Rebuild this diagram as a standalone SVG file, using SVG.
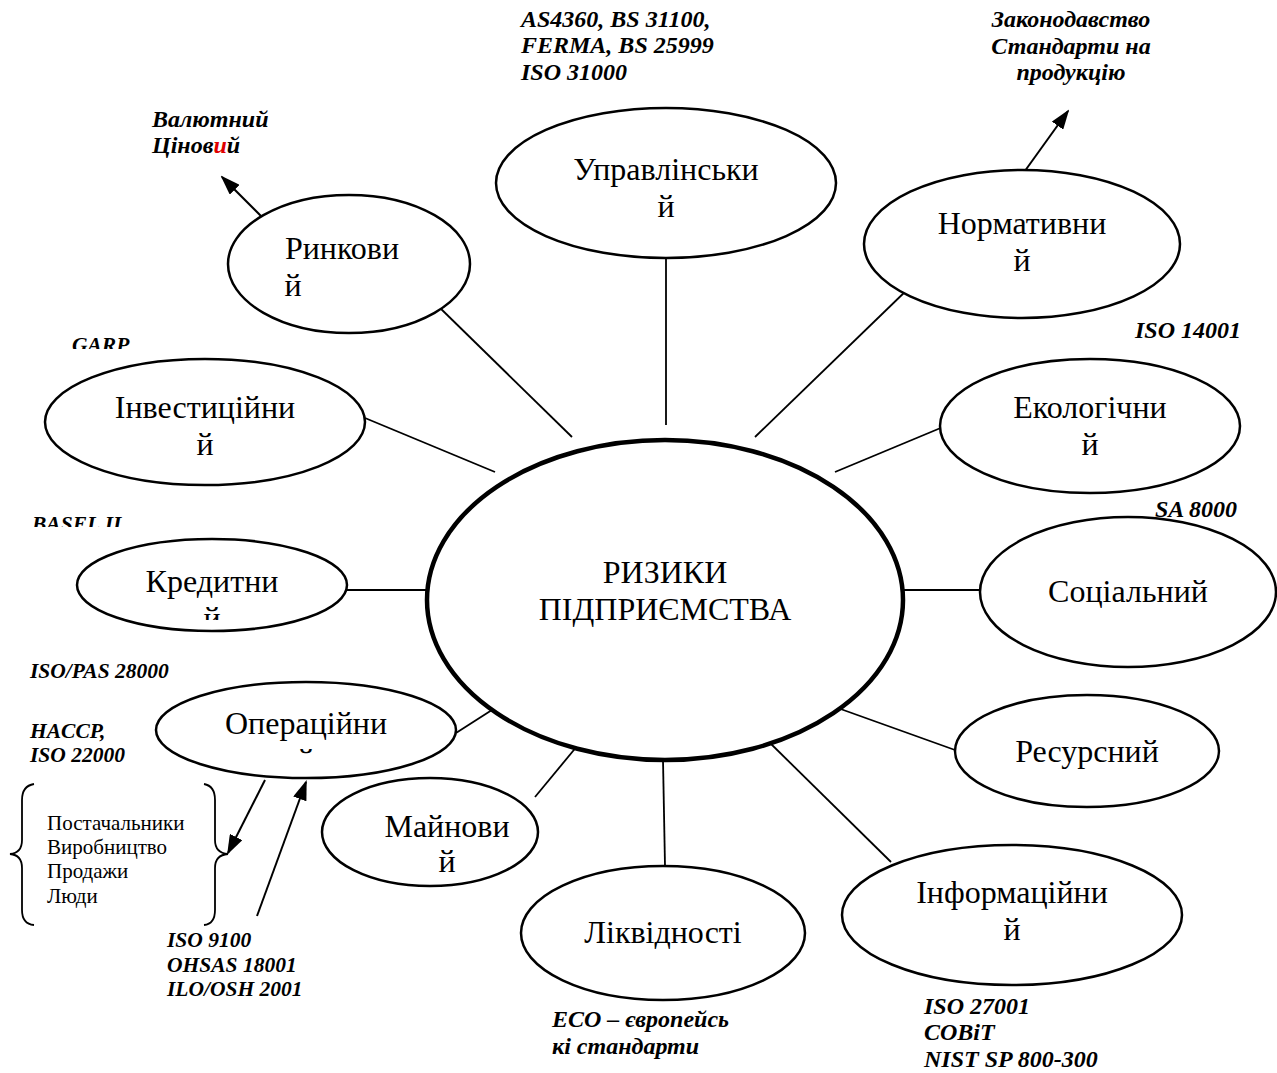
<svg xmlns="http://www.w3.org/2000/svg" width="1277" height="1073" viewBox="0 0 1277 1073">
<style>
.node{fill:#fff;stroke:#000;stroke-width:2.5}
.main{fill:#fff;stroke:#000;stroke-width:4.5}
text{font-family:'Liberation Serif','DejaVu Serif','Noto Serif',serif}
.lbl{font-size:32px;fill:#000;text-anchor:middle}
.std{font-size:24px;font-weight:bold;font-style:italic;fill:#000}
.sm{font-size:21.5px}
.lst{font-size:21px;fill:#000}
.con line{stroke:#000;stroke-width:1.8}
.arr{stroke:#000;stroke-width:2;marker-end:url(#ah)}
.brace{fill:none;stroke:#000;stroke-width:1.8}
</style>
<defs>
<marker id="ah" markerWidth="20" markerHeight="14" refX="18" refY="7" orient="auto" markerUnits="userSpaceOnUse" viewBox="0 0 20 14">
<path d="M0,0 L20,7 L0,14 Z" fill="#000"/>
</marker>
<clipPath id="clipGarp"><rect x="60" y="320" width="100" height="29"/></clipPath>
<clipPath id="clipBasel"><rect x="20" y="500" width="120" height="27"/></clipPath>
<clipPath id="clipKred"><rect x="100" y="560" width="230" height="60"/></clipPath>
<clipPath id="clipOper"><rect x="180" y="700" width="250" height="56"/></clipPath>
</defs>
<g id="connectors">
<g class="con">
<line x1="437" y1="305" x2="572" y2="437"/>
<line x1="666" y1="258" x2="666" y2="425"/>
<line x1="910" y1="287" x2="755" y2="437"/>
<line x1="365" y1="418" x2="495" y2="472"/>
<line x1="943" y1="427" x2="835" y2="472"/>
<line x1="347" y1="590" x2="427" y2="590"/>
<line x1="903" y1="590" x2="980" y2="590"/>
<line x1="456" y1="733" x2="495" y2="708"/>
<line x1="535" y1="797" x2="578" y2="745"/>
<line x1="663" y1="760" x2="665" y2="866"/>
<line x1="835" y1="707" x2="955" y2="750"/>
<line x1="767" y1="740" x2="891" y2="862"/>
</g>
<line class="arr" x1="263" y1="218" x2="222" y2="177"/>
<line class="arr" x1="1022" y1="175" x2="1068" y2="111"/>
<line class="arr" x1="265" y1="780" x2="228" y2="853"/>
<line class="arr" x1="257" y1="916" x2="306" y2="782"/>
</g>
<g id="center">
<ellipse class="main" cx="665" cy="600" rx="238" ry="160"/>
<text class="lbl" x="665" y="583">РИЗИКИ</text>
<text class="lbl" x="665" y="620">ПІДПРИЄМСТВА</text>
</g>
<g id="upravlinskyi">
<ellipse class="node" cx="666" cy="183" rx="170" ry="75"/>
<text class="lbl" x="666" y="180">Управлінськи</text>
<text class="lbl" x="666" y="217">й</text>
</g>
<g id="normatyvnyi">
<ellipse class="node" cx="1022" cy="244" rx="158" ry="74"/>
<text class="lbl" x="1022" y="234">Нормативни</text>
<text class="lbl" x="1022" y="271">й</text>
</g>
<g id="rynkovyi">
<ellipse class="node" cx="349" cy="264" rx="121" ry="69"/>
<text class="lbl" x="342" y="259">Ринкови</text>
<text class="lbl" x="293" y="296">й</text>
</g>
<g id="investytsiinyi">
<ellipse class="node" cx="205" cy="422" rx="160" ry="63"/>
<text class="lbl" x="205" y="418">Інвестиційни</text>
<text class="lbl" x="205" y="455">й</text>
</g>
<g id="ekolohichnyi">
<ellipse class="node" cx="1090" cy="426" rx="150" ry="67"/>
<text class="lbl" x="1090" y="418">Екологічни</text>
<text class="lbl" x="1090" y="455">й</text>
</g>
<g id="sotsialnyi">
<ellipse class="node" cx="1128" cy="592" rx="148" ry="75"/>
<text class="lbl" x="1128" y="602">Соціальний</text>
</g>
<g id="kredytnyi">
<ellipse class="node" cx="212" cy="585" rx="135" ry="46"/>
<g clip-path="url(#clipKred)">
<text class="lbl" x="212" y="592">Кредитни</text>
<text class="lbl" x="212" y="629">й</text>
</g>
</g>
<g id="operatsiinyi">
<ellipse class="node" cx="306" cy="730" rx="150" ry="48"/>
<g clip-path="url(#clipOper)">
<text class="lbl" x="306" y="734">Операційни</text>
<text class="lbl" x="306" y="771">й</text>
</g>
</g>
<g id="mainovyi">
<ellipse class="node" cx="430" cy="832" rx="108" ry="54"/>
<text class="lbl" x="447" y="837">Майнови</text>
<text class="lbl" x="447" y="872">й</text>
</g>
<g id="likvidnosti">
<ellipse class="node" cx="663" cy="933" rx="142" ry="67"/>
<text class="lbl" x="663" y="943">Ліквідності</text>
</g>
<g id="resursnyi">
<ellipse class="node" cx="1087" cy="751" rx="132" ry="56"/>
<text class="lbl" x="1087" y="762">Ресурсний</text>
</g>
<g id="informatsiinyi">
<ellipse class="node" cx="1012" cy="915" rx="170" ry="70"/>
<text class="lbl" x="1012" y="903">Інформаційни</text>
<text class="lbl" x="1012" y="940">й</text>
</g>
<g id="standards">
<text class="std" x="521" y="27">AS4360, BS 31100,</text>
<text class="std" x="521" y="53">FERMA, BS 25999</text>
<text class="std" x="521" y="80">ISO 31000</text>
<text class="std" x="1071" y="27" text-anchor="middle">Законодавство</text>
<text class="std" x="1071" y="54" text-anchor="middle">Стандарти на</text>
<text class="std" x="1071" y="80" text-anchor="middle">продукцію</text>
<text class="std" x="152" y="127">Валютний</text>
<text class="std" x="152" y="153">Ціно<tspan>в</tspan><tspan fill="#e00000">и</tspan>й</text>
<g clip-path="url(#clipGarp)"><text class="std sm" x="72" y="352">GARP</text></g>
<g clip-path="url(#clipBasel)"><text class="std sm" x="32" y="531">BASEL II</text></g>
<text class="std" x="1241" y="338" text-anchor="end">ISO 14001</text>
<text class="std" x="1237" y="517" text-anchor="end">SA 8000</text>
<text class="std sm" x="30" y="678">ISO/PAS 28000</text>
<text class="std sm" x="30" y="738">HACCP,</text>
<text class="std sm" x="30" y="762">ISO 22000</text>
<text class="std sm" x="167" y="947">ISO 9100</text>
<text class="std sm" x="167" y="972">OHSAS 18001</text>
<text class="std sm" x="167" y="996">ILO/OSH 2001</text>
<text class="std" x="552" y="1027">ECO – європейсь</text>
<text class="std" x="552" y="1054">кі стандарти</text>
<text class="std" x="924" y="1014">ISO 27001</text>
<text class="std" x="924" y="1040">COBiT</text>
<text class="std" x="924" y="1067">NIST SP 800-300</text>
</g>
<g id="list">
<path class="brace" d="M34,784 Q22,786 22,800 L22,840 Q22,853 10,854 Q22,855 22,868 L22,910 Q22,924 34,925"/>
<path class="brace" d="M204,784 Q215,786 215,800 L215,840 Q215,853 228,854 Q215,855 215,868 L215,910 Q215,924 204,925"/>
<text class="lst" x="47" y="830">Постачальники</text>
<text class="lst" x="47" y="854">Виробництво</text>
<text class="lst" x="47" y="878">Продажи</text>
<text class="lst" x="47" y="903">Люди</text>
</g>
</svg>
